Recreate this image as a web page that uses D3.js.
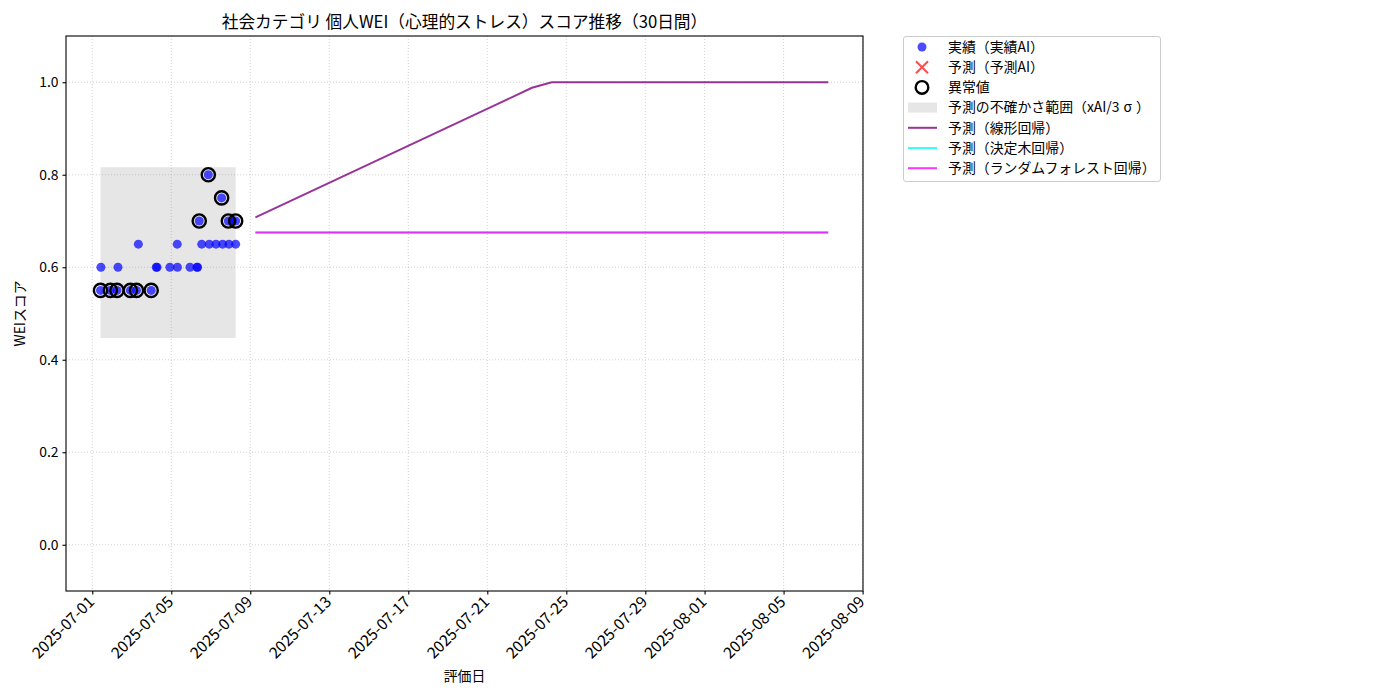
<!DOCTYPE html>
<html><head><meta charset="utf-8">
<script src="https://cdn.jsdelivr.net/npm/d3@7"></script>
<style>
body{margin:0;background:#fff;}
text{font-family:"Noto Sans CJK JP","Noto Sans",sans-serif;fill:#000;}
</style></head>
<body><svg id="c" width="1400" height="700"></svg>
<script>
// ---- data ----
const actualDates = ["2025-07-01T10:00","2025-07-01T10:30","2025-07-01T22:00","2025-07-02T06:00","2025-07-02T07:15",
 "2025-07-02T22:20","2025-07-03T05:45","2025-07-03T08:00","2025-07-03T23:35","2025-07-04T05:45","2025-07-04T06:45",
 "2025-07-04T22:20","2025-07-05T07:30","2025-07-05T07:15","2025-07-05T22:45","2025-07-06T07:10","2025-07-06T08:00",
 "2025-07-06T10:00","2025-07-06T13:00","2025-07-06T21:00","2025-07-06T22:10","2025-07-07T06:20","2025-07-07T13:10",
 "2025-07-07T14:25","2025-07-07T21:20","2025-07-07T22:05","2025-07-08T02:25","2025-07-08T06:15","2025-07-08T06:15"];
const actualValues = [0.55,0.60,0.55,0.55,0.60,0.55,0.55,0.65,0.55,0.60,0.60,0.60,0.60,0.65,0.60,0.60,0.60,
 0.70,0.65,0.80,0.65,0.65,0.75,0.65,0.70,0.65,0.70,0.70,0.65];
const anomalyFlags = [1,0,1,1,0,1,1,0,1,0,0,0,0,0,0,0,0,1,0,1,0,0,1,0,1,0,0,1,0];
const bandLower = 0.447, bandUpper = 0.816;
const forecastStart = "2025-07-09T06:15";
const linearValues = [0.708,0.728,0.748,0.768,0.788,0.808,0.828,0.848,0.868,0.888,0.908,0.928,0.948,0.968,0.988,
 1.0,1.0,1.0,1.0,1.0,1.0,1.0,1.0,1.0,1.0,1.0,1.0,1.0,1.0,1.0];
const treeValues = [0.675,0.675,0.675,0.675,0.675,0.675,0.675,0.675,0.675,0.675,0.675,0.675,0.675,0.675,0.675,
 0.675,0.675,0.675,0.675,0.675,0.675,0.675,0.675,0.675,0.675,0.675,0.675,0.675,0.675,0.675];
const forestValues = [0.675,0.675,0.675,0.675,0.675,0.675,0.675,0.675,0.675,0.675,0.675,0.675,0.675,0.675,0.675,
 0.675,0.675,0.675,0.675,0.675,0.675,0.675,0.675,0.675,0.675,0.675,0.675,0.675,0.675,0.675];
const xTickLabels = ["2025-07-01","2025-07-05","2025-07-09","2025-07-13","2025-07-17","2025-07-21","2025-07-25",
 "2025-07-29","2025-08-01","2025-08-05","2025-08-09"];
const yTicks = [0.0,0.2,0.4,0.6,0.8,1.0];
const legendLabels = ["実績（実績AI）","予測（予測AI）","異常値","予測の不確かさ範囲（xAI/3σ）","予測（線形回帰）","予測（決定木回帰）","予測（ランダムフォレスト回帰）"];
const titleText = "社会カテゴリ 個人WEI（心理的ストレス）スコア推移（30日間）";

// ---- layout ----
const L=66, R=863, T=36, B=591;
const FS = 13.9;
const parse = d3.isoParse;
const svg = d3.select("#c");
const x = d3.scaleTime().domain([parse("2025-06-29T16:05"), parse("2025-08-09T00:30")]).range([L,R]);
const y = d3.scaleLinear().domain([-0.1,1.1]).range([B,T]);

const actual = actualDates.map((d,i)=>({date:parse(d), v:actualValues[i], a:anomalyFlags[i]}));
const fDates = linearValues.map((_,i)=>d3.timeDay.offset(parse(forecastStart), i));
const mk = arr => arr.map((v,i)=>({date:fDates[i], v}));

// grid
const xTicks = xTickLabels.map(s=>parse(s));
const g = svg.append("g");
g.selectAll(".gx").data(xTicks).join("line").attr("x1",d=>x(d)).attr("x2",d=>x(d)).attr("y1",T).attr("y2",B)
 .attr("stroke","#b0b0b0").attr("stroke-opacity",0.7).attr("stroke-width",0.8).attr("stroke-dasharray","1,2");
g.selectAll(".gy").data(yTicks).join("line").attr("y1",d=>y(d)).attr("y2",d=>y(d)).attr("x1",L).attr("x2",R)
 .attr("stroke","#b0b0b0").attr("stroke-opacity",0.7).attr("stroke-width",0.8).attr("stroke-dasharray","1,2");

// band
const ext = d3.extent(actual, d=>d.date);
svg.append("path").datum(ext).attr("d", d3.area().x(d=>x(d)).y0(y(bandLower)).y1(y(bandUpper)))
 .attr("fill","gray").attr("fill-opacity",0.2);

// lines
const line = d3.line().x(d=>x(d.date)).y(d=>y(d.v));
svg.append("path").datum(mk(linearValues)).attr("d",line).attr("fill","none").attr("stroke","purple").attr("stroke-opacity",0.8).attr("stroke-width",2);
svg.append("path").datum(mk(treeValues)).attr("d",line).attr("fill","none").attr("stroke","cyan").attr("stroke-opacity",0.8).attr("stroke-width",2);
svg.append("path").datum(mk(forestValues)).attr("d",line).attr("fill","none").attr("stroke","magenta").attr("stroke-opacity",0.8).attr("stroke-width",2);

// scatter
svg.selectAll(".pt").data(actual).join("circle").attr("cx",d=>x(d.date)).attr("cy",d=>y(d.v)).attr("r",4.5)
 .attr("fill","blue").attr("fill-opacity",0.7);
svg.selectAll(".an").data(actual.filter(d=>d.a)).join("circle").attr("cx",d=>x(d.date)).attr("cy",d=>y(d.v)).attr("r",6.6)
 .attr("fill","none").attr("stroke","black").attr("stroke-width",2.4);

// spines
svg.append("rect").attr("x",L).attr("y",T).attr("width",R-L).attr("height",B-T).attr("fill","none").attr("stroke","#000").attr("stroke-width",1.1);

// axes
const xa = svg.append("g").attr("transform",`translate(0,${B})`)
 .call(d3.axisBottom(x).tickValues(xTicks).tickSize(3.5).tickFormat(()=>""));
xa.select(".domain").remove();
xa.selectAll("line").attr("stroke","#000").attr("stroke-width",1.1);
svg.selectAll(".xl").data(xTicks).join("text")
 .attr("transform",(d,i)=>`translate(${x(d)+3},${B+12}) rotate(-45)`)
 .attr("text-anchor","end").attr("font-size",15.6).text((d,i)=>xTickLabels[i]);
const ya = svg.append("g").attr("transform",`translate(${L},0)`)
 .call(d3.axisLeft(y).tickValues(yTicks).tickSize(3.5).tickPadding(4).tickFormat(d3.format(".1f")));
ya.select(".domain").remove();
ya.selectAll("line").attr("stroke","#000").attr("stroke-width",1.1);
ya.selectAll("text").attr("font-size",FS).style("font-family",'"Noto Sans CJK JP",sans-serif');

// labels
svg.append("text").attr("x",(L+R)/2).attr("y",28).attr("text-anchor","middle").attr("font-size",16.7).text(titleText);
svg.append("text").attr("x",(L+R)/2).attr("y",681).attr("text-anchor","middle").attr("font-size",FS).text("評価日");
svg.append("text").attr("transform",`translate(25,${(T+B)/2}) rotate(-90)`).attr("text-anchor","middle").attr("font-size",FS).text("WEIスコア");

// legend
const lg = svg.append("g");
lg.append("rect").attr("x",903.5).attr("y",36.5).attr("width",257).attr("height",145).attr("rx",2.5)
 .attr("fill","#fff").attr("stroke","#cccccc");
const ly = i => 47 + i*20.2;
lg.append("circle").attr("cx",922).attr("cy",ly(0)).attr("r",4.5).attr("fill","blue").attr("fill-opacity",0.7);
lg.append("path").attr("d",`M916,${ly(1)-6}L928,${ly(1)+6}M916,${ly(1)+6}L928,${ly(1)-6}`).attr("stroke","red").attr("stroke-opacity",0.7).attr("stroke-width",2);
lg.append("circle").attr("cx",922).attr("cy",ly(2)).attr("r",6.3).attr("fill","none").attr("stroke","black").attr("stroke-width",2.4);
lg.append("rect").attr("x",908).attr("y",ly(3)-5).attr("width",29).attr("height",10).attr("fill","gray").attr("fill-opacity",0.2);
["purple","cyan","magenta"].forEach((c,k)=>{
  lg.append("line").attr("x1",908).attr("x2",937).attr("y1",ly(4+k)).attr("y2",ly(4+k)).attr("stroke",c).attr("stroke-opacity",0.8).attr("stroke-width",2);
});
lg.selectAll(".lt").data(legendLabels).join("text").attr("x",948).attr("y",(d,i)=>ly(i)).attr("dy","0.35em")
 .attr("font-size",FS).each(function(d){
   const t = d3.select(this);
   const parts = d.split("σ");
   if (parts.length === 2) {
     t.append("tspan").text(parts[0]);
     t.append("tspan").attr("dx",4).text("σ");
     t.append("tspan").attr("dx",4).text(parts[1]);
   } else t.text(d);
 });
</script></body></html>
